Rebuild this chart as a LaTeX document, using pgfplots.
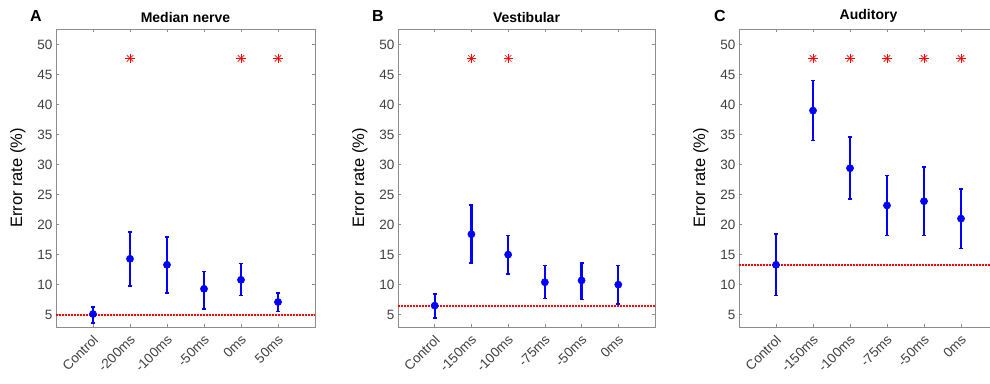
\documentclass[border=0pt]{standalone}
\usepackage{fontspec}
\setmainfont{Liberation Sans}
\usepackage{pgfplots}
\usepackage{pgfplotstable}
\pgfplotsset{compat=1.18}
\definecolor{axgray}{gray}{0.55}
\definecolor{tkgray}{gray}{0.25}
\definecolor{mblue}{rgb}{0,0,1}
\definecolor{mred}{rgb}{1,0,0}

% x, y, plus, minus
\pgfplotstableread{
x y ep em
1 5.1 1.2 1.5
2 14.3 4.5 4.5
3 13.3 4.6 4.7
4 9.3 2.9 3.4
5 10.8 2.7 2.6
6 7.1 1.5 1.6
}\dataA
\pgfplotstableread{
x y ep em
1 6.5 1.9 2.1
2 18.4 4.9 4.8
3 15.0 3.2 3.2
4 10.4 2.8 2.7
5 10.7 2.9 3.2
6 10.0 3.2 3.2
}\dataB
\pgfplotstableread{
x y ep em
1 13.3 5.1 5.1
2 39.0 5.0 5.0
3 29.4 5.2 5.1
4 23.2 5.0 5.0
5 23.9 5.7 5.7
6 21.0 4.9 5.0
}\dataC
\pgfplotstableread{
x y
2 47.7
5 47.7
6 47.7
}\starA
\pgfplotstableread{
x y
2 47.7
3 47.7
}\starB
\pgfplotstableread{
x y
2 47.7
3 47.7
4 47.7
5 47.7
6 47.7
}\starC

\pgfplotsset{
  panel/.style={
    anchor=south west,
    scale only axis,
    width=259pt, height=298pt,
    xmin=0, xmax=7, ymin=2.94, ymax=52.6,
    xtick={1,...,6},
    ytick={5,10,...,50},
    tick align=inside,
    major tick length=3pt,
    axis line style={axgray, line width=0.8pt},
    tick style={axgray, line width=0.6pt},
    /pgf/number format/assume math mode=true,
    ticklabel style={font=\fontsize{13.5}{15}\selectfont, text=tkgray},
    xticklabel style={xshift=5pt, yshift=-8pt, rotate=45, anchor=east},
    ylabel={Error rate (\%)},
    ylabel style={font=\fontsize{16.5}{18}\selectfont, text=black, yshift=5pt},
    title style={font=\bfseries\fontsize{14}{16}\selectfont, yshift=-3pt},
    clip=false,
  },
  ebar/.style={
    mblue, mark=*, mark size=3.6pt, line width=2.4pt, only marks,
    mark options={solid, fill=mblue, draw=mblue, line width=0.5pt},
    error bars/.cd, y dir=both, y explicit,
    error bar style={line width=2.4pt, mblue},
    error mark options={mblue, line width=1.6pt, mark size=2pt, rotate=90},
  },
  starp/.style={only marks, mred, mark size=4.6pt, mark options={line width=0.6pt}},
  base/.style={draw=red, line width=2pt, line cap=butt, dash pattern=on 1.6pt off 1.4pt, forget plot},
}

\begin{document}
\begin{tikzpicture}[x=1pt,y=1pt]

\begin{axis}[panel, at={(56pt,56pt)}, title={Median nerve},
  xticklabels={Control,-200ms,-100ms,-50ms,0ms,50ms}]
\addplot[base] coordinates {(0,5.0) (7,5.0)};
\addplot[ebar] table[x=x, y=y, y error plus=ep, y error minus=em] {\dataA};
\addplot[starp, mark=+] table[x=x,y=y] {\starA};
\addplot[starp, mark=x] table[x=x,y=y] {\starA};
\end{axis}

\begin{axis}[panel, at={(398pt,56pt)}, width=257pt, title={Vestibular},
  xticklabels={Control,-150ms,-100ms,-75ms,-50ms,0ms}]
\addplot[base] coordinates {(0,6.5) (7,6.5)};
\addplot[ebar] table[x=x, y=y, y error plus=ep, y error minus=em] {\dataB};
\addplot[starp, mark=+] table[x=x,y=y] {\starB};
\addplot[starp, mark=x] table[x=x,y=y] {\starB};
\end{axis}

\begin{axis}[panel, at={(739pt,56pt)}, title={Auditory},
  xticklabels={Control,-150ms,-100ms,-75ms,-50ms,0ms}]
\addplot[base] coordinates {(0,13.2) (7,13.2)};
\addplot[ebar] table[x=x, y=y, y error plus=ep, y error minus=em] {\dataC};
\addplot[starp, mark=+] table[x=x,y=y] {\starC};
\addplot[starp, mark=x] table[x=x,y=y] {\starC};
\end{axis}

\node[anchor=north west, inner sep=0pt, font=\bfseries\fontsize{16}{18}\selectfont] at (30,373) {A};
\node[anchor=north west, inner sep=0pt, font=\bfseries\fontsize{16}{18}\selectfont] at (372,373) {B};
\node[anchor=north west, inner sep=0pt, font=\bfseries\fontsize{16}{18}\selectfont] at (714,373) {C};

\pgfresetboundingbox
\useasboundingbox (0,0) rectangle (990,383);
\end{tikzpicture}
\end{document}
